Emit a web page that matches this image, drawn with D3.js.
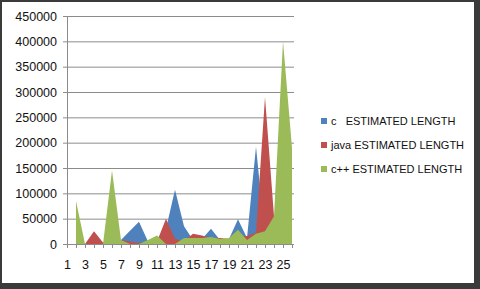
<!DOCTYPE html>
<html>
<head>
<meta charset="utf-8">
<script src="https://cdn.jsdelivr.net/npm/d3@7"></script>
<style>
  body { margin: 0; background: #fff; }
  svg { display: block; font-family: "Liberation Sans", Arial, sans-serif; }
</style>
</head>
<body>
<svg id="chart" width="480" height="289"></svg>
<script>
// categories along the x axis
const categories = [1, 2, 3, 4, 5, 6, 7, 8, 9, 10, 11, 12, 13, 14, 15, 16, 17, 18, 19, 20, 21, 22, 23, 24, 25, 26];
const tickLabels = [1, 3, 5, 7, 9, 11, 13, 15, 17, 19, 21, 23, 25];
const yTicks = [0, 50000, 100000, 150000, 200000, 250000, 300000, 350000, 400000, 450000];

// series values (null = empty cell)
const cValues = [null, 0, 0, 0, 0, 0, 8000, 26000, 44000, 5000, 5000, 30000, 107000, 35000, 8000, 10000, 30000, 8000, 10000, 49000, 12000, 192000, 15000, 10000, 10000, 10000];
const javaValues = [null, 0, 0, 25000, 3000, 10000, 8000, 5000, 2000, 5000, 5000, 50000, 10000, 6000, 20000, 17000, 12000, 12000, 10000, 15000, 16000, 22000, 290000, 55000, 10000, 10000];
const cppValues = [null, 85000, 0, 0, 0, 145000, 8000, 0, 0, 8000, 17000, 0, 0, 12000, 12000, 12000, 14000, 10000, 12000, 28000, 8000, 20000, 25000, 55000, 400000, 190000];

const seriesNames = ["c   ESTIMATED LENGTH", "java ESTIMATED LENGTH", "c++ ESTIMATED LENGTH"];
const seriesColors = ["#4F81BD", "#C0504D", "#9BBB59"];
const seriesValues = [cValues, javaValues, cppValues];

const svg = d3.select("#chart");

// frame with shadow
svg.append("rect").attr("x", 0).attr("y", 0).attr("width", 480).attr("height", 289).attr("fill", "#3a3a3a");
svg.append("rect").attr("x", 2).attr("y", 2).attr("width", 472).attr("height", 281).attr("fill", "#fff");

const x = d3.scalePoint().domain(categories).range([67, 292]);
const y = d3.scaleLinear().domain([0, 450000]).range([244, 16]);

// gridlines
svg.append("g")
    .attr("transform", "translate(67,0)")
    .call(d3.axisLeft(y).tickValues(yTicks).tickSize(-227).tickFormat(""))
    .call(g => g.select(".domain").remove())
    .selectAll("line").attr("stroke", "#8c8c8c");

// areas
const area = d3.area()
    .defined(d => d !== null)
    .x((d, i) => x(categories[i]))
    .y0(y(0))
    .y1(d => y(d));

seriesValues.forEach((vals, k) => {
    svg.append("path")
        .datum(vals)
        .attr("fill", seriesColors[k])
        .attr("d", area);
});

// y axis
const yAxis = svg.append("g")
    .attr("transform", "translate(67,0)")
    .call(d3.axisLeft(y).tickValues(yTicks).tickSize(4).tickPadding(6).tickFormat(d3.format("d")));
yAxis.select(".domain").attr("stroke", "#8c8c8c");
yAxis.selectAll("line").attr("stroke", "#8c8c8c");
yAxis.selectAll("text").style("font-size", "12.5px").attr("fill", "#111");

// x axis
const xAxis = svg.append("g")
    .attr("transform", `translate(0,${y(0)})`)
    .call(d3.axisBottom(x).tickSize(4).tickPadding(12).tickFormat(d => tickLabels.includes(d) ? d : ""));
xAxis.select(".domain").attr("stroke", "#8c8c8c");
xAxis.selectAll("line").attr("stroke", "#8c8c8c");
xAxis.selectAll("text").style("font-size", "12.5px").attr("fill", "#111");

// legend
const legend = svg.append("g").attr("transform", "translate(321,0)");
seriesNames.forEach((name, k) => {
    const ly = 121 + k * 24;
    legend.append("rect")
        .attr("x", 0).attr("y", ly - 3)
        .attr("width", 6).attr("height", 6)
        .attr("fill", seriesColors[k]);
    legend.append("text")
        .attr("x", 10).attr("y", ly)
        .attr("dy", "0.35em")
        .style("font-size", "11px")
        .style("white-space", "pre")
        .attr("fill", "#111")
        .text(name);
});
</script>
</body>
</html>
